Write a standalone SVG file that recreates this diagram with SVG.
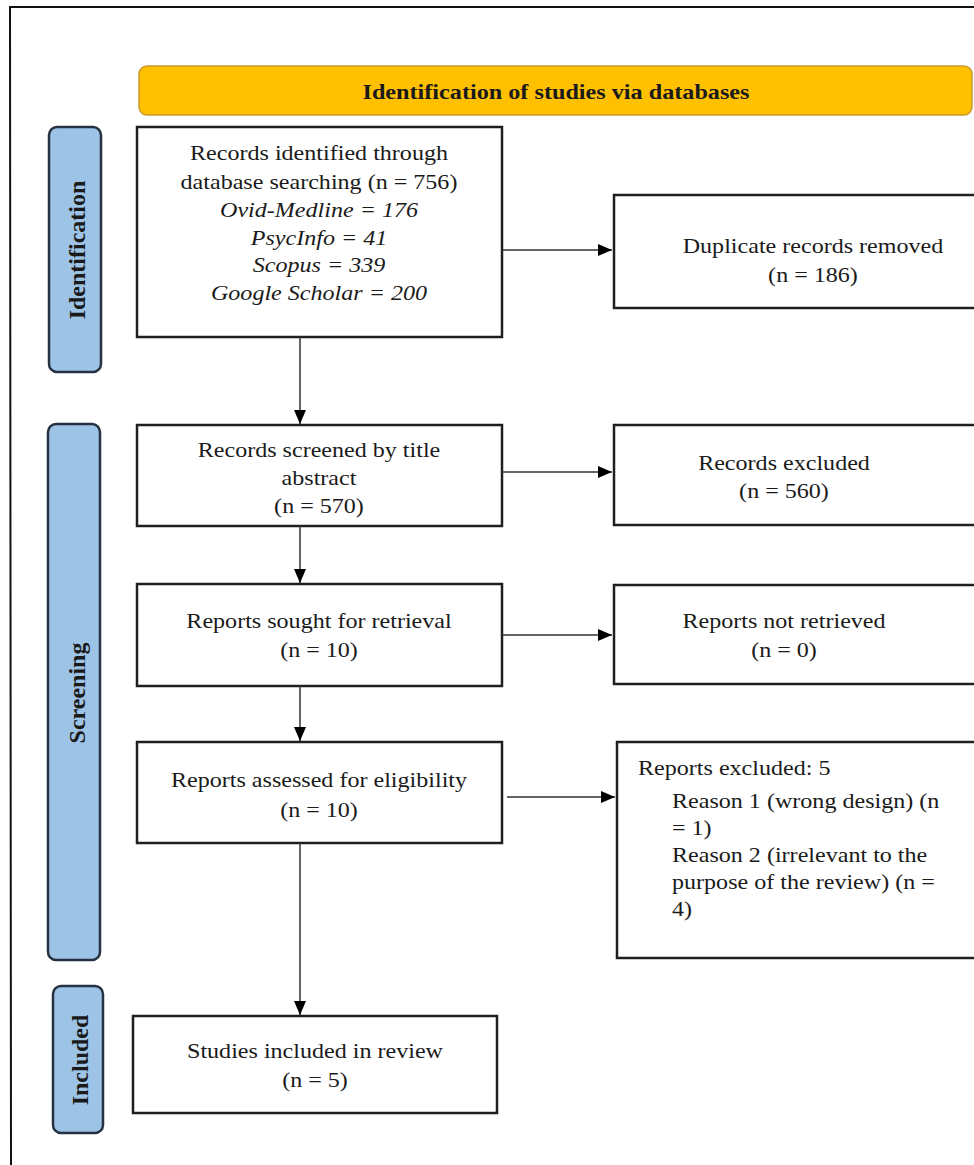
<svg xmlns="http://www.w3.org/2000/svg" width="974" height="1165" viewBox="0 0 974 1165">
<style>
  .box { fill: #ffffff; stroke: #1f1f1f; stroke-width: 2.5; }
  .phase { fill: #9DC3E6; stroke: #263241; stroke-width: 2.5; }
  .banner { fill: #FFC000; stroke: #C99A2E; stroke-width: 1.5; }
  .t { font-family: "Liberation Serif", "Times New Roman", serif; font-size: 21.5px; fill: #1a1a1a; text-anchor: middle; }
  .it { font-style: italic; }
  .tl { text-anchor: start; }
  .pl { font-family: "Liberation Serif", "Times New Roman", serif; font-size: 24px; font-weight: bold; fill: #1a1a1a; text-anchor: middle; }
  .bt { font-family: "Liberation Serif", "Times New Roman", serif; font-size: 22px; font-weight: bold; fill: #1a1a1a; text-anchor: middle; }
  .conn line { stroke: #333333; stroke-width: 1.5; }
</style>
<defs>
  <marker id="ah" markerWidth="14" markerHeight="12" refX="14" refY="6" orient="auto" markerUnits="userSpaceOnUse">
    <path d="M0,0 L14,6 L0,12 Z" fill="#000"/>
  </marker>
</defs>
<rect x="0" y="0" width="974" height="1165" fill="#ffffff"/>
<path d="M11,1165 L10,7 L974,7" fill="none" stroke="#111" stroke-width="2"/>

<g id="banner">
  <rect class="banner" x="139" y="66" width="833" height="49" rx="8"/>
  <text class="bt" x="556" y="99" textLength="387" lengthAdjust="spacingAndGlyphs">Identification of studies via databases</text>
</g>

<g id="phase-identification">
  <rect class="phase" x="49" y="127" width="52" height="245" rx="8"/>
  <text class="pl" transform="translate(85,250) rotate(-90)">Identification</text>
</g>
<g id="phase-screening">
  <rect class="phase" x="48" y="424" width="52" height="536" rx="8"/>
  <text class="pl" transform="translate(85,693) rotate(-90)">Screening</text>
</g>
<g id="phase-included">
  <rect class="phase" x="53" y="986" width="50" height="147" rx="8"/>
  <text class="pl" transform="translate(88,1060) rotate(-90)">Included</text>
</g>

<g id="records-identified">
  <rect class="box" x="137" y="127" width="365" height="210"/>
  <text class="t" transform="matrix(1.12 0 0 1 319 0)" x="0" y="160">Records identified through</text>
  <text class="t" transform="matrix(1.12 0 0 1 319 0)" x="0" y="189">database searching (n = 756)</text>
  <text class="t it" transform="matrix(1.12 0 0 1 319 0)" x="0" y="217">Ovid-Medline = 176</text>
  <text class="t it" transform="matrix(1.12 0 0 1 319 0)" x="0" y="245">PsycInfo = 41</text>
  <text class="t it" transform="matrix(1.12 0 0 1 319 0)" x="0" y="272">Scopus = 339</text>
  <text class="t it" transform="matrix(1.12 0 0 1 319 0)" x="0" y="300">Google Scholar = 200</text>
</g>
<g id="duplicates-removed">
  <rect class="box" x="614" y="195" width="380" height="113"/>
  <text class="t" transform="matrix(1.12 0 0 1 813 0)" x="0" y="253">Duplicate records removed</text>
  <text class="t" transform="matrix(1.12 0 0 1 813 0)" x="0" y="282">(n = 186)</text>
</g>
<g id="records-screened">
  <rect class="box" x="137" y="425" width="365" height="101"/>
  <text class="t" transform="matrix(1.12 0 0 1 319 0)" x="0" y="457">Records screened by title</text>
  <text class="t" transform="matrix(1.12 0 0 1 319 0)" x="0" y="485">abstract</text>
  <text class="t" transform="matrix(1.12 0 0 1 319 0)" x="0" y="513">(n = 570)</text>
</g>
<g id="records-excluded">
  <rect class="box" x="614" y="425" width="380" height="100"/>
  <text class="t" transform="matrix(1.12 0 0 1 784 0)" x="0" y="470">Records excluded</text>
  <text class="t" transform="matrix(1.12 0 0 1 784 0)" x="0" y="498">(n = 560)</text>
</g>
<g id="reports-sought">
  <rect class="box" x="137" y="584" width="365" height="102"/>
  <text class="t" transform="matrix(1.12 0 0 1 319 0)" x="0" y="628">Reports sought for retrieval</text>
  <text class="t" transform="matrix(1.12 0 0 1 319 0)" x="0" y="657">(n = 10)</text>
</g>
<g id="reports-not-retrieved">
  <rect class="box" x="614" y="585" width="380" height="99"/>
  <text class="t" transform="matrix(1.12 0 0 1 784 0)" x="0" y="628">Reports not retrieved</text>
  <text class="t" transform="matrix(1.12 0 0 1 784 0)" x="0" y="657">(n = 0)</text>
</g>
<g id="reports-assessed">
  <rect class="box" x="137" y="742" width="365" height="101"/>
  <text class="t" transform="matrix(1.12 0 0 1 319 0)" x="0" y="787">Reports assessed for eligibility</text>
  <text class="t" transform="matrix(1.12 0 0 1 319 0)" x="0" y="817">(n = 10)</text>
</g>
<g id="reports-excluded">
  <rect class="box" x="617" y="742" width="380" height="216"/>
  <text class="t tl" transform="matrix(1.12 0 0 1 638 0)" x="0" y="775">Reports excluded: 5</text>
  <text class="t tl" transform="matrix(1.12 0 0 1 672 0)" x="0" y="808">Reason 1 (wrong design) (n</text>
  <text class="t tl" transform="matrix(1.12 0 0 1 672 0)" x="0" y="835">= 1)</text>
  <text class="t tl" transform="matrix(1.12 0 0 1 672 0)" x="0" y="862">Reason 2 (irrelevant to the</text>
  <text class="t tl" transform="matrix(1.12 0 0 1 672 0)" x="0" y="889">purpose of the review) (n =</text>
  <text class="t tl" transform="matrix(1.12 0 0 1 672 0)" x="0" y="916">4)</text>
</g>
<g id="studies-included">
  <rect class="box" x="133" y="1016" width="364" height="97"/>
  <text class="t" transform="matrix(1.12 0 0 1 315 0)" x="0" y="1058">Studies included in review</text>
  <text class="t" transform="matrix(1.12 0 0 1 315 0)" x="0" y="1087">(n = 5)</text>
</g>

<g id="connectors" class="conn">
  <line x1="300" y1="337" x2="300" y2="424" marker-end="url(#ah)"/>
  <line x1="300" y1="526" x2="300" y2="583" marker-end="url(#ah)"/>
  <line x1="300" y1="686" x2="300" y2="741" marker-end="url(#ah)"/>
  <line x1="300" y1="843" x2="300" y2="1015" marker-end="url(#ah)"/>
  <line x1="502" y1="250" x2="612" y2="250" marker-end="url(#ah)"/>
  <line x1="502" y1="472" x2="612" y2="472" marker-end="url(#ah)"/>
  <line x1="502" y1="635" x2="612" y2="635" marker-end="url(#ah)"/>
  <line x1="507" y1="797" x2="615" y2="797" marker-end="url(#ah)"/>
</g>
</svg>
